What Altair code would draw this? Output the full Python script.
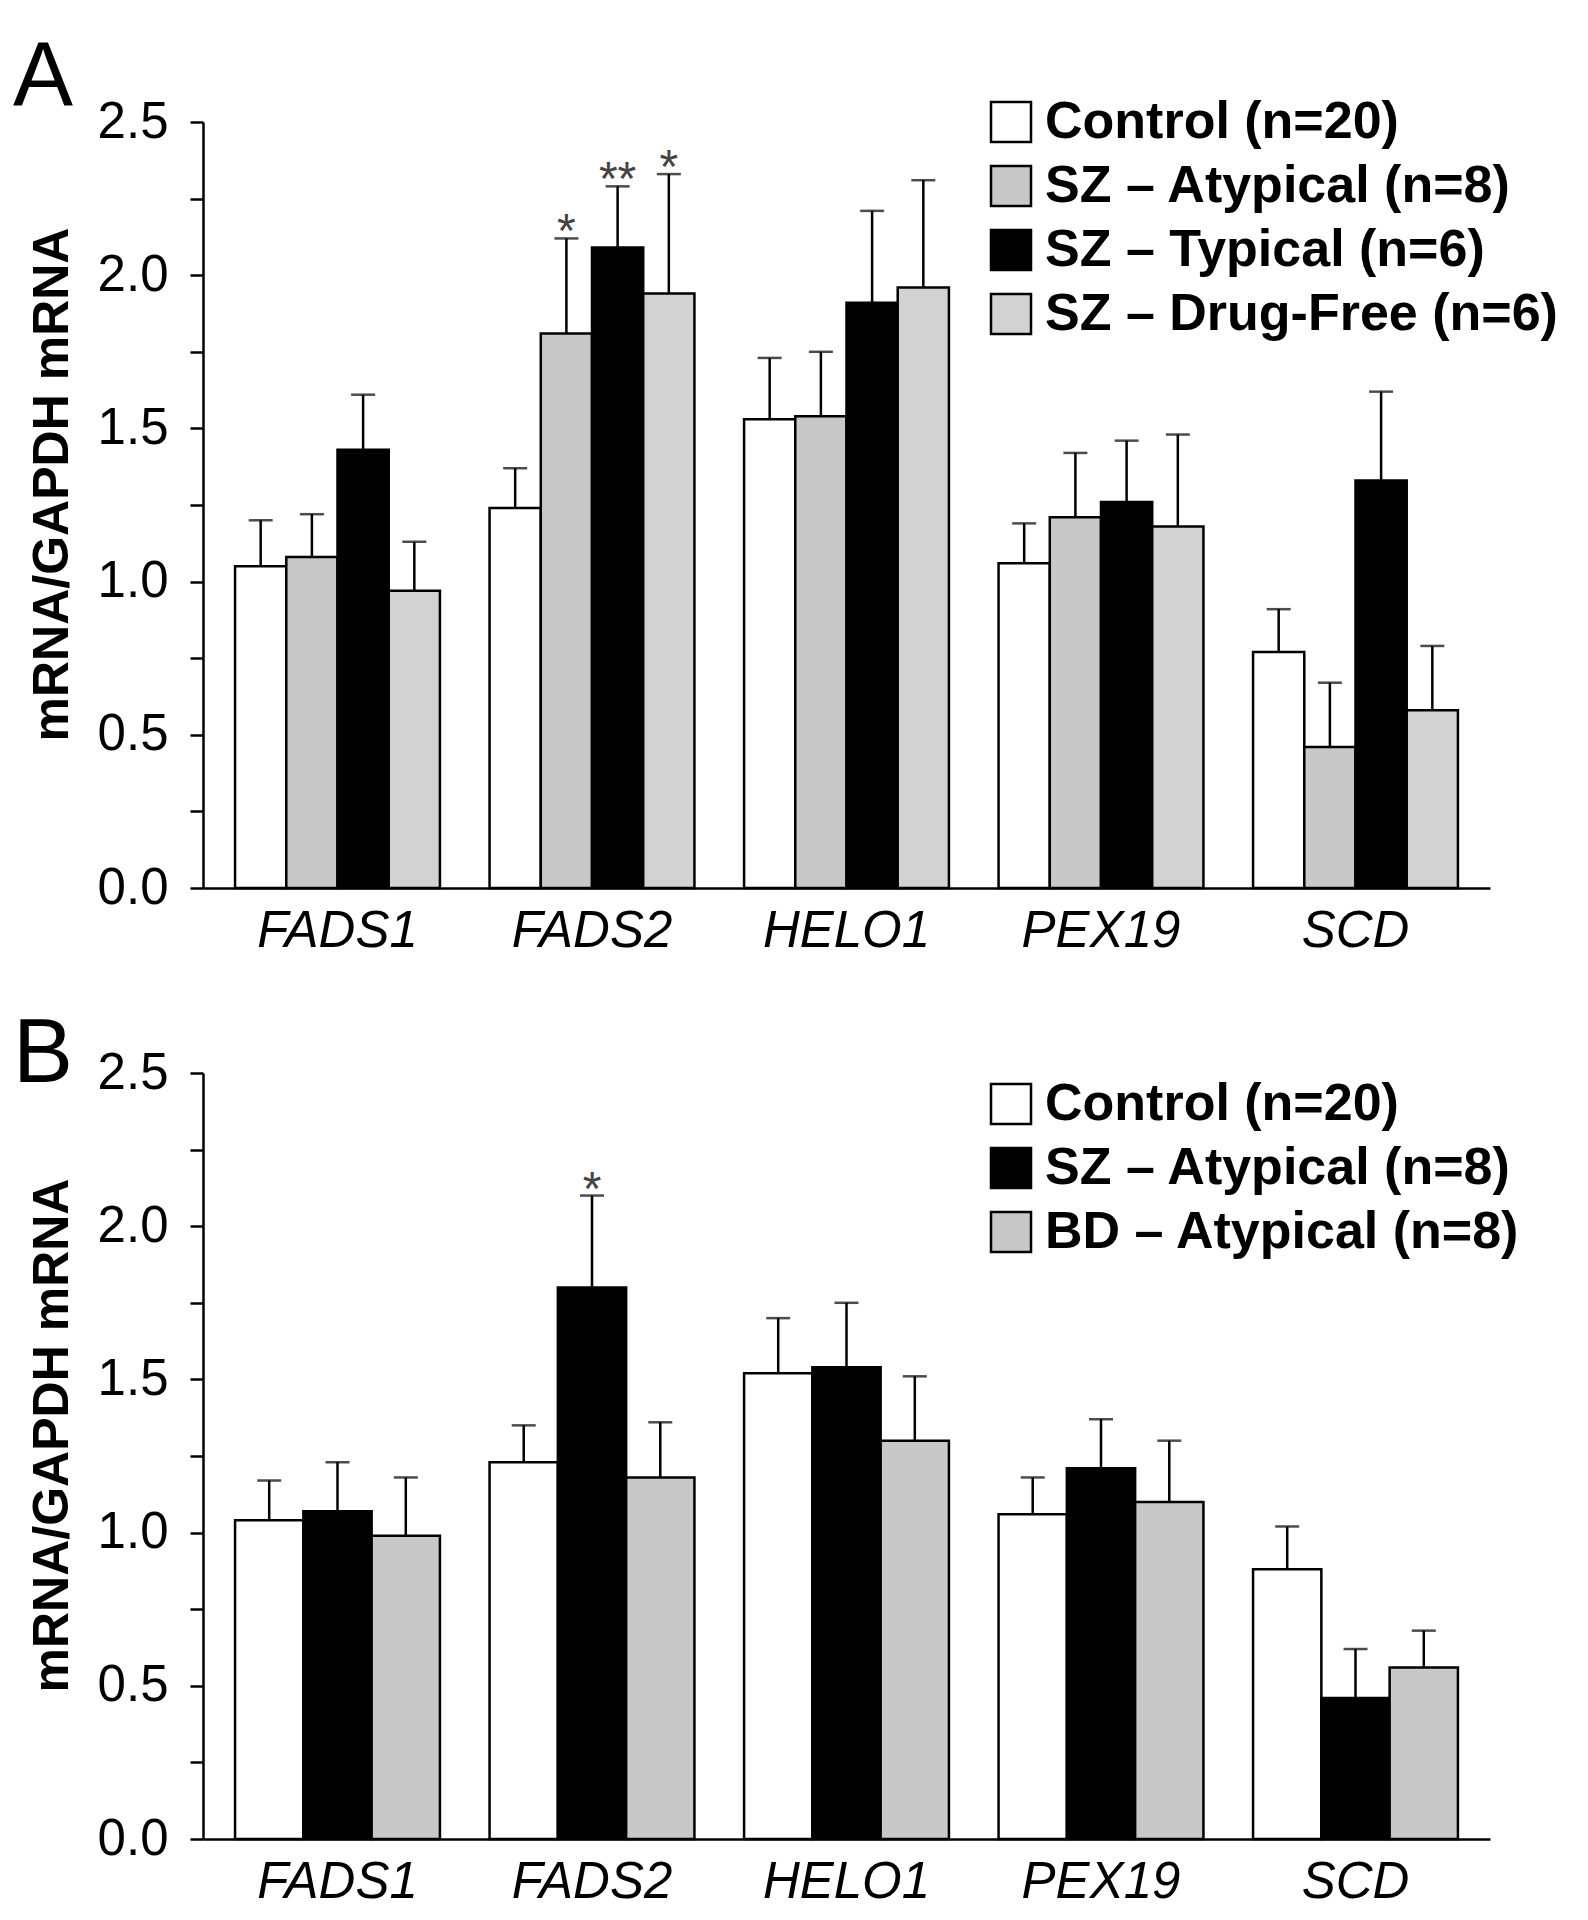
import altair as alt
import pandas as pd

genes = ["FADS1", "FADS2", "HELO1", "PEX19", "SCD"]

# Panel A
groups_a = ["Control (n=20)", "SZ – Atypical (n=8)", "SZ – Typical (n=6)", "SZ – Drug-Free (n=6)"]
colors_a = ["#ffffff", "#c8c8c8", "#000000", "#d2d2d2"]
a_control = [1.05, 1.24, 1.53, 1.06, 0.77]
a_control_up = [1.20, 1.37, 1.73, 1.19, 0.91]
a_szatyp = [1.08, 1.81, 1.54, 1.21, 0.46]
a_szatyp_up = [1.22, 2.12, 1.75, 1.42, 0.67]
a_sztyp = [1.43, 2.09, 1.91, 1.26, 1.33]
a_sztyp_up = [1.61, 2.29, 2.21, 1.46, 1.62]
a_df = [0.97, 1.94, 1.96, 1.18, 0.58]
a_df_up = [1.13, 2.33, 2.31, 1.48, 0.79]
a_stars_control = ["", "", "", "", ""]
a_stars_szatyp = ["", "*", "", "", ""]
a_stars_sztyp = ["", "**", "", "", ""]
a_stars_df = ["", "*", "", "", ""]

# Panel B
groups_b = ["Control (n=20)", "SZ – Atypical (n=8)", "BD – Atypical (n=8)"]
colors_b = ["#ffffff", "#000000", "#c8c8c8"]
b_control = [1.04, 1.23, 1.52, 1.06, 0.88]
b_control_up = [1.17, 1.35, 1.70, 1.18, 1.02]
b_sz = [1.07, 1.80, 1.54, 1.21, 0.46]
b_sz_up = [1.23, 2.10, 1.75, 1.37, 0.62]
b_bd = [0.99, 1.18, 1.30, 1.10, 0.56]
b_bd_up = [1.18, 1.36, 1.51, 1.30, 0.68]
b_stars_control = ["", "", "", "", ""]
b_stars_sz = ["", "*", "", "", ""]
b_stars_bd = ["", "", "", "", ""]

y_ticks = [0, 0.25, 0.5, 0.75, 1.0, 1.25, 1.5, 1.75, 2.0, 2.25, 2.5]
YTITLE = "mRNA/GAPDH mRNA"
FONT = "Liberation Sans"


def make_df(groups, values, uppers, stars):
    rows = []
    for g, vals, ups, st in zip(groups, values, uppers, stars):
        for gene, v, u, s in zip(genes, vals, ups, st):
            rows.append(dict(gene=gene, group=g, value=v, upper=u, star=s))
    return pd.DataFrame(rows)


def panel(df, groups, colors, letter, legend_y, title_dy):
    base = alt.Chart(df).encode(
        x=alt.X(
            "gene:N",
            sort=genes,
            scale=alt.Scale(paddingInner=0.195, paddingOuter=0.126),
            axis=alt.Axis(
                title=None,
                labelAngle=0,
                labelFontStyle="italic",
                labelFontSize=51,
                labelFont=FONT,
                labelColor="black",
                ticks=False,
                labelPadding=18,
                domainColor="black",
                domainWidth=2.5,
            ),
        ),
        xOffset=alt.XOffset(
            "group:N", sort=groups, scale=alt.Scale(domain=groups, paddingInner=0, paddingOuter=0)
        ),
    )
    yscale = alt.Scale(domain=[0, 2.5], nice=False)
    yaxis = alt.Axis(
        values=y_ticks,
        labelExpr="(round(datum.value*100) % 50 == 0) ? format(datum.value, '.1f') : ''",
        labelFontSize=51,
        labelFont=FONT,
        labelColor="black",
        tickColor="black",
        tickWidth=2.5,
        tickSize=13,
        labelPadding=22,
        domainColor="black",
        domainWidth=2.5,
        grid=False,
        titleFont=FONT,
        titleFontSize=50,
        titleFontWeight="bold",
        titleColor="black",
        titlePadding=20,
        titleY=362,
    )
    bars = base.mark_bar(stroke="black", strokeWidth=2.5).encode(
        y=alt.Y("value:Q", scale=yscale, axis=yaxis, title=YTITLE),
        color=alt.Color(
            "group:N",
            sort=groups,
            scale=alt.Scale(domain=groups, range=colors),
            legend=alt.Legend(
                title=None,
                orient="none",
                legendX=782,
                legendY=legend_y,
                symbolType="square",
                symbolSize=1600,
                symbolStrokeColor="black",
                symbolStrokeWidth=2.5,
                symbolOpacity=1,
                labelFont=FONT,
                labelFontSize=52,
                labelFontWeight="bold",
                labelColor="black",
                labelOffset=8,
                labelLimit=1000,
                rowPadding=12,
                padding=0,
            ),
        ),
    )
    err = base.mark_rule(color="black", strokeWidth=2.5).encode(
        y=alt.Y("value:Q", scale=yscale, title=YTITLE), y2="upper:Q"
    )
    cap = base.mark_tick(color="black", thickness=2.5, size=24, orient="horizontal").encode(
        y=alt.Y("upper:Q", scale=yscale, title=YTITLE)
    )
    stars = (
        base.transform_filter("datum.star != ''")
        .mark_text(font=FONT, fontSize=48, color="#444444", baseline="alphabetic", dy=9)
        .encode(y=alt.Y("upper:Q", scale=yscale, title=YTITLE), text="star:N")
    )
    return alt.layer(err, cap, bars, stars).properties(
        width=1287,
        height=766,
        title=alt.TitleParams(
            letter,
            anchor="start",
            frame="group",
            dx=-190,
            dy=title_dy,
            fontSize=90,
            fontWeight="normal",
            font=FONT,
            color="black",
        ),
    )


df_a = make_df(
    groups_a,
    [a_control, a_szatyp, a_sztyp, a_df],
    [a_control_up, a_szatyp_up, a_sztyp_up, a_df_up],
    [a_stars_control, a_stars_szatyp, a_stars_sztyp, a_stars_df],
)
df_b = make_df(
    groups_b,
    [b_control, b_sz, b_bd],
    [b_control_up, b_sz_up, b_bd_up],
    [b_stars_control, b_stars_sz, b_stars_bd],
)

pa = panel(df_a, groups_a, colors_a, "A", -26, 32)
pb = panel(df_b, groups_b, colors_b, "B", 5, 58)

chart = (
    alt.vconcat(pa, pb, spacing=54)
    .resolve_scale(color="independent", xOffset="independent")
    .resolve_legend(color="independent")
    .properties(
        padding={"left": 5, "top": 25, "right": 5, "bottom": 0},
        background="white",
    )
    .configure_view(stroke="transparent", strokeWidth=0)
)

chart.save("out.html", embed_options={"renderer": "svg", "actions": False})
